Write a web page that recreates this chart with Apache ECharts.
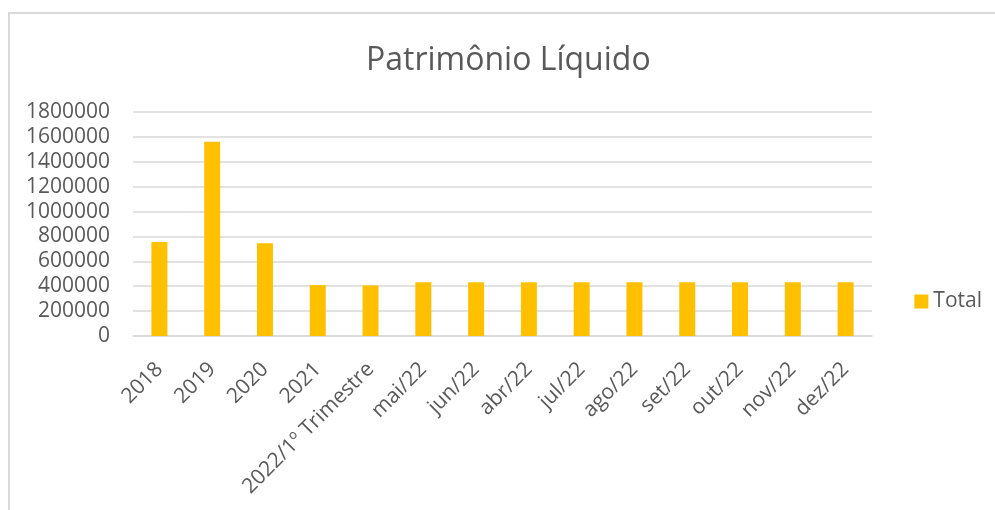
<!DOCTYPE html>
<html>
<head>
<meta charset="utf-8">
<script src="https://cdn.jsdelivr.net/npm/echarts@6/dist/echarts.min.js"></script>
<style>
  html, body { margin: 0; padding: 0; background: #fff; }
  #chart { width: 995px; height: 510px; }
</style>
</head>
<body>
<div id="chart"></div>
<script>
const categories = [
  "2018", "2019", "2020", "2021", "2022/1º Trimestre",
  "mai/22", "jun/22", "abr/22", "jul/22", "ago/22",
  "set/22", "out/22", "nov/22", "dez/22",
];
const totals = [
  755000, 1560000, 745000, 410000, 407000,
  432000, 432000, 432000, 432000, 432000,
  432000, 432000, 432000, 432000,
];
const yTicks = { min: 0, max: 1800000, interval: 200000 };

const textColor = "#595959";
const gridColor = "#d9d9d9";
const font = "'Open Sans', sans-serif";

const chart = echarts.init(document.getElementById("chart"));
chart.setOption({
  animation: false,
  textStyle: { fontFamily: font },
  title: {
    text: "Patrimônio Líquido",
    left: 361,
    top: 40,
    textStyle: { color: textColor, fontSize: 32, fontWeight: "normal", fontFamily: font },
  },
  legend: {
    right: 8,
    top: 286,
    orient: "vertical",
    itemWidth: 14,
    itemHeight: 14,
    itemGap: 5,
    icon: "rect",
    textStyle: { color: textColor, fontSize: 21, fontFamily: font },
  },
  grid: { left: 133, right: 123, top: 112, bottom: 174 },
  xAxis: {
    type: "category",
    data: categories,
    axisLine: { lineStyle: { color: gridColor, width: 1.5 } },
    axisTick: { show: false },
    axisLabel: {
      rotate: 45,
      interval: 0,
      margin: 30,
      color: textColor,
      fontSize: 21,
      fontFamily: font,
    },
  },
  yAxis: {
    type: "value",
    min: yTicks.min,
    max: yTicks.max,
    interval: yTicks.interval,
    axisLine: { show: false },
    axisTick: { show: false },
    splitLine: { lineStyle: { color: gridColor, width: 1.5 } },
    axisLabel: {
      color: textColor,
      fontSize: 21,
      fontFamily: font,
      margin: 23,
      formatter: (v) => String(v),
    },
  },
  series: [
    {
      name: "Total",
      type: "bar",
      data: totals,
      barWidth: 16,
      itemStyle: { color: "#ffc000" },
    },
  ],
  graphic: [
    {
      type: "polyline",
      shape: { points: [[9, 510], [9, 13], [995, 13]] },
      style: { stroke: gridColor, lineWidth: 2, fill: null },
      silent: true,
    },
  ],
});
</script>
</body>
</html>
